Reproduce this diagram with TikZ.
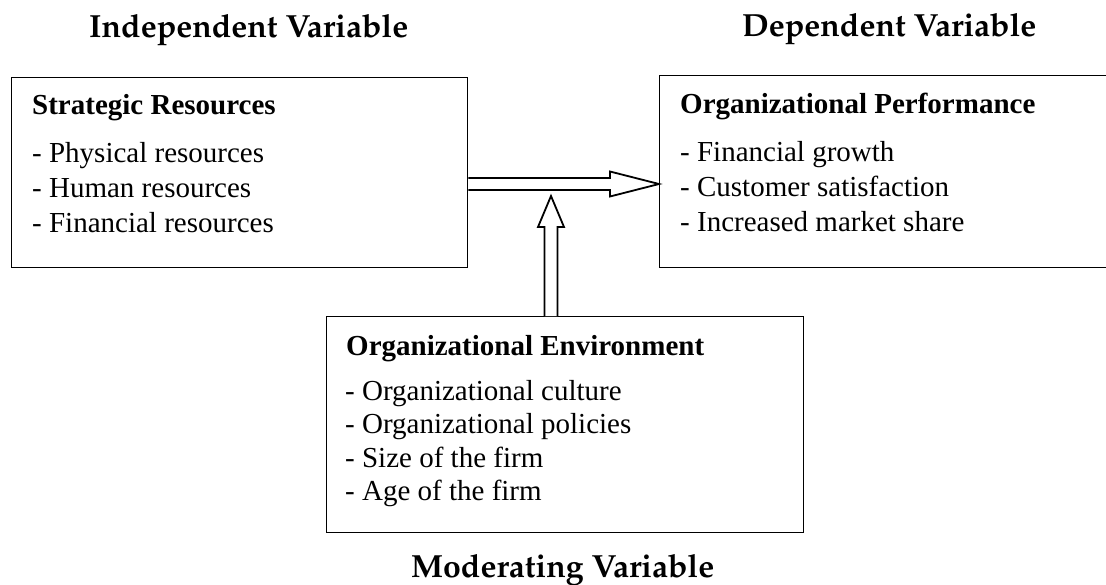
\documentclass[tikz,border=0pt]{standalone}
\usepackage[T1,TU]{fontenc}
\usepackage{fontspec}
\setmainfont{Liberation Serif}
\newcommand\headfnt{\fontencoding{T1}\fontfamily{ppl}\fontseries{b}\fontshape{n}\selectfont}
\tikzset{
  box/.style={draw=black, line width=1.3pt, inner sep=0pt, anchor=north west},
  txt/.style={anchor=base west, inner sep=0pt, font=\fontsize{29}{34}\selectfont},
  ttl/.style={anchor=base west, inner sep=0pt, font=\fontsize{29}{34}\selectfont\bfseries},
  head/.style={anchor=base west, inner sep=0pt, font=\fontsize{32}{37}\headfnt},
  blockarrow/.style={draw=black, line width=1.8pt, fill=white, line join=miter}
}
\begin{document}
\begin{tikzpicture}[x=1pt,y=-1pt]
\useasboundingbox (0,0) rectangle (1106,584);
% boxes
\node[box, minimum width=456pt, minimum height=190pt] (sr) at (11,77) {};
\node[box, minimum width=460pt, minimum height=192pt] (op) at (659,75) {};
\node[box, minimum width=477pt, minimum height=216pt] (oe) at (326,316) {};
% headings
\node[head] (hi) at (89,37) {Independent Variable};
\node[head] (hd) at (742,36) {Dependent Variable};
\node[head] (hm) at (411,577) {Moderating Variable};
% left box text
\node[ttl] (t1) at (32,114) {Strategic Resources};
\node[txt] (a1) at (32,162) {- Physical resources};
\node[txt] (a2) at (32,197) {- Human resources};
\node[txt] (a3) at (32,232) {- Financial resources};
% right box text
\node[ttl] (t2) at (680,113) {Organizational Performance};
\node[txt] (b1) at (680,161) {- Financial growth};
\node[txt] (b2) at (680,196) {- Customer satisfaction};
\node[txt] (b3) at (680,231) {- Increased market share};
% bottom box text
\node[ttl] (t3) at (346,355) {Organizational Environment};
\node[txt] (c1) at (345,400) {- Organizational culture};
\node[txt] (c2) at (345,433) {- Organizational policies};
\node[txt] (c3) at (345,467) {- Size of the firm};
\node[txt] (c4) at (345,500) {- Age of the firm};
% arrow end points
\coordinate (hs) at (sr.east |- 0,184);
\coordinate (ht) at (op.west |- 0,184);
\coordinate (vs) at (oe.north -| 551,0);
\coordinate (vt) at (551,196);
% horizontal block arrow
\draw[blockarrow] ([yshift=6pt]hs) -- ([xshift=-49pt,yshift=6pt]ht) -- ([xshift=-49pt,yshift=12.5pt]ht)
  -- (ht) -- ([xshift=-49pt,yshift=-12.5pt]ht) -- ([xshift=-49pt,yshift=-6pt]ht) -- ([yshift=-6pt]hs);
% vertical block arrow
\draw[blockarrow] ([xshift=-6.5pt]vs) -- ([xshift=-6.5pt,yshift=-31pt]vt) -- ([xshift=-13pt,yshift=-31pt]vt)
  -- (vt) -- ([xshift=13pt,yshift=-31pt]vt) -- ([xshift=6.5pt,yshift=-31pt]vt) -- ([xshift=6.5pt]vs);
\end{tikzpicture}
\end{document}
